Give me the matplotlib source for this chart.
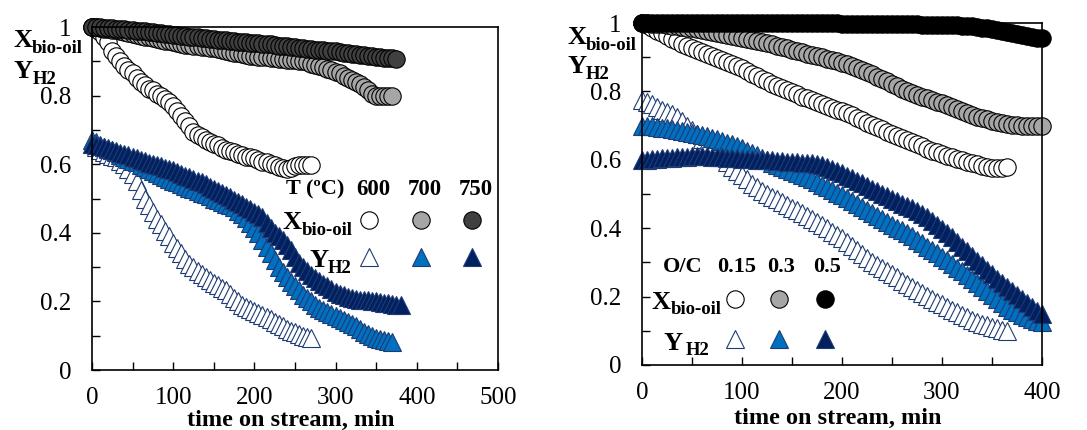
import numpy as np
import matplotlib
matplotlib.use("Agg")
import matplotlib.pyplot as plt

plt.rcParams["font.family"] = "Liberation Serif"

# sampling interval of the measurements, min
DT = 5

# ---- left panel: temperature series ----
temps = ["600", "700", "750"]
x_600 = [1.0, 0.995, 0.985, 0.97, 0.955, 0.93, 0.915, 0.9, 0.885, 0.875, 0.865, 0.85, 0.84, 0.83,
         0.82, 0.815, 0.805, 0.8, 0.79, 0.78, 0.77, 0.755, 0.74, 0.725, 0.71, 0.695, 0.685, 0.68,
         0.67, 0.665, 0.66, 0.655, 0.648, 0.642, 0.638, 0.635, 0.63, 0.627, 0.622, 0.62, 0.617,
         0.612, 0.607, 0.605, 0.6, 0.598, 0.592, 0.588, 0.585, 0.59, 0.595, 0.597, 0.598, 0.597, 0.597]
x_700 = [1.0, 1.0, 0.998, 0.995, 0.993, 0.99, 0.99, 0.988, 0.985, 0.983, 0.98, 0.978, 0.975, 0.972,
         0.97, 0.968, 0.965, 0.962, 0.96, 0.958, 0.955, 0.953, 0.95, 0.948, 0.947, 0.946, 0.945,
         0.943, 0.942, 0.94, 0.938, 0.935, 0.933, 0.93, 0.928, 0.925, 0.923, 0.92, 0.918, 0.916,
         0.915, 0.914, 0.913, 0.912, 0.91, 0.909, 0.908, 0.906, 0.905, 0.904, 0.903, 0.902, 0.9,
         0.897, 0.893, 0.89, 0.886, 0.882, 0.878, 0.874, 0.87, 0.865, 0.858, 0.852, 0.846, 0.84,
         0.835, 0.825, 0.815, 0.805, 0.8, 0.8, 0.8, 0.8, 0.8]
x_750 = [1.0, 1.0, 0.999, 0.998, 0.997, 0.996, 0.995, 0.994, 0.993, 0.992, 0.99, 0.989, 0.988,
         0.987, 0.986, 0.985, 0.983, 0.982, 0.98, 0.979, 0.978, 0.977, 0.975, 0.974, 0.972, 0.971,
         0.97, 0.969, 0.968, 0.966, 0.965, 0.963, 0.962, 0.961, 0.96, 0.958, 0.957, 0.956, 0.955,
         0.954, 0.953, 0.952, 0.951, 0.95, 0.949, 0.948, 0.946, 0.945, 0.944, 0.942, 0.941, 0.94,
         0.938, 0.937, 0.936, 0.934, 0.933, 0.932, 0.931, 0.93, 0.929, 0.927, 0.925, 0.923, 0.921,
         0.92, 0.918, 0.917, 0.916, 0.915, 0.913, 0.912, 0.911, 0.91, 0.909, 0.908]
y_600 = [0.66, 0.65, 0.64, 0.635, 0.63, 0.625, 0.62, 0.61, 0.6, 0.585, 0.57, 0.55, 0.525, 0.5, 0.48,
         0.46, 0.44, 0.425, 0.405, 0.39, 0.37, 0.355, 0.34, 0.325, 0.31, 0.3, 0.29, 0.28, 0.27,
         0.262, 0.255, 0.248, 0.24, 0.233, 0.222, 0.21, 0.2, 0.19, 0.185, 0.178, 0.172, 0.165, 0.16,
         0.155, 0.148, 0.14, 0.133, 0.127, 0.12, 0.115, 0.11, 0.105, 0.1, 0.095, 0.092]
y_700 = [0.67, 0.665, 0.655, 0.65, 0.645, 0.64, 0.635, 0.628, 0.62, 0.615, 0.61, 0.605, 0.598,
         0.592, 0.585, 0.58, 0.574, 0.568, 0.562, 0.557, 0.552, 0.547, 0.542, 0.537, 0.532, 0.527,
         0.522, 0.517, 0.512, 0.506, 0.5, 0.495, 0.49, 0.485, 0.48, 0.474, 0.465, 0.455, 0.443, 0.43,
         0.415, 0.4, 0.38, 0.36, 0.34, 0.32, 0.3, 0.285, 0.27, 0.256, 0.245, 0.232, 0.22, 0.21, 0.2,
         0.19, 0.182, 0.176, 0.17, 0.164, 0.158, 0.152, 0.146, 0.14, 0.134, 0.127, 0.12, 0.112,
         0.105, 0.098, 0.094, 0.09, 0.087, 0.085, 0.083]
y_750 = [0.66, 0.657, 0.653, 0.65, 0.646, 0.642, 0.638, 0.634, 0.63, 0.626, 0.621, 0.617, 0.613,
         0.608, 0.604, 0.6, 0.597, 0.594, 0.59, 0.586, 0.582, 0.577, 0.572, 0.567, 0.562, 0.557,
         0.552, 0.547, 0.541, 0.535, 0.529, 0.523, 0.516, 0.509, 0.503, 0.497, 0.49, 0.483, 0.476,
         0.469, 0.462, 0.456, 0.445, 0.43, 0.415, 0.4, 0.39, 0.38, 0.365, 0.35, 0.33, 0.312, 0.3,
         0.288, 0.277, 0.268, 0.26, 0.252, 0.244, 0.236, 0.228, 0.223, 0.218, 0.214, 0.21, 0.207,
         0.205, 0.204, 0.203, 0.202, 0.2, 0.198, 0.196, 0.194, 0.192, 0.19, 0.19]

# ---- right panel: O/C series ----
ocs = ["0.15", "0.3", "0.5"]
x_015 = [1.0, 0.993, 0.985, 0.978, 0.97, 0.962, 0.954, 0.947, 0.94, 0.934, 0.928, 0.922, 0.916,
         0.91, 0.904, 0.898, 0.892, 0.886, 0.88, 0.874, 0.867, 0.86, 0.852, 0.845, 0.837, 0.83,
         0.823, 0.815, 0.809, 0.803, 0.797, 0.791, 0.785, 0.78, 0.775, 0.77, 0.764, 0.758, 0.752,
         0.747, 0.742, 0.736, 0.73, 0.723, 0.716, 0.709, 0.702, 0.695, 0.689, 0.682, 0.676, 0.67,
         0.663, 0.657, 0.651, 0.645, 0.639, 0.633, 0.627, 0.622, 0.617, 0.612, 0.607, 0.603, 0.599,
         0.595, 0.591, 0.587, 0.583, 0.579, 0.576, 0.575, 0.577, 0.58]
x_03 = [1.0, 0.999, 0.998, 0.997, 0.996, 0.994, 0.992, 0.99, 0.988, 0.986, 0.984, 0.982, 0.98,
        0.978, 0.975, 0.972, 0.969, 0.966, 0.963, 0.96, 0.957, 0.954, 0.951, 0.948, 0.945, 0.942,
        0.938, 0.934, 0.93, 0.926, 0.922, 0.918, 0.914, 0.91, 0.907, 0.904, 0.9, 0.896, 0.892,
        0.888, 0.884, 0.879, 0.874, 0.868, 0.862, 0.856, 0.85, 0.843, 0.836, 0.829, 0.822, 0.815,
        0.808, 0.8, 0.795, 0.79, 0.785, 0.78, 0.775, 0.77, 0.765, 0.76, 0.754, 0.748, 0.742, 0.736,
        0.73, 0.726, 0.722, 0.718, 0.714, 0.711, 0.708, 0.705, 0.703, 0.701, 0.7, 0.699, 0.698,
        0.699, 0.7]
x_05 = [1.0, 1.0, 1.0, 1.0, 1.0, 1.0, 1.0, 1.0, 1.0, 1.0, 1.0, 1.0, 1.0, 1.0, 1.0, 1.0, 1.0, 1.0,
        1.0, 1.0, 1.0, 1.0, 1.0, 1.0, 1.0, 1.0, 1.0, 1.0, 1.0, 1.0, 0.999, 0.999, 0.999, 0.999,
        0.999, 0.999, 0.999, 0.999, 0.999, 0.999, 0.998, 0.998, 0.998, 0.998, 0.998, 0.998, 0.998,
        0.997, 0.997, 0.997, 0.997, 0.997, 0.996, 0.996, 0.996, 0.996, 0.995, 0.995, 0.995, 0.995,
        0.995, 0.994, 0.994, 0.993, 0.992, 0.991, 0.99, 0.988, 0.986, 0.984, 0.982, 0.98, 0.978,
        0.975, 0.972, 0.969, 0.966, 0.963, 0.96, 0.957, 0.955]
y_015 = [0.775, 0.77, 0.762, 0.755, 0.747, 0.74, 0.733, 0.724, 0.713, 0.7, 0.688, 0.675, 0.662,
         0.65, 0.636, 0.622, 0.608, 0.594, 0.58, 0.568, 0.556, 0.543, 0.53, 0.52, 0.51, 0.5, 0.492,
         0.484, 0.476, 0.468, 0.46, 0.452, 0.445, 0.437, 0.428, 0.419, 0.41, 0.4, 0.39, 0.38, 0.37,
         0.359, 0.348, 0.337, 0.325, 0.313, 0.302, 0.292, 0.283, 0.274, 0.265, 0.256, 0.247, 0.238,
         0.229, 0.22, 0.211, 0.202, 0.193, 0.185, 0.177, 0.169, 0.161, 0.154, 0.147, 0.14, 0.133,
         0.127, 0.121, 0.116, 0.111, 0.107, 0.103, 0.1]
y_03 = [0.7, 0.7, 0.698, 0.696, 0.694, 0.692, 0.69, 0.688, 0.685, 0.682, 0.679, 0.676, 0.673,
        0.67, 0.665, 0.66, 0.655, 0.65, 0.645, 0.64, 0.634, 0.627, 0.62, 0.613, 0.606, 0.599, 0.592,
        0.586, 0.58, 0.574, 0.568, 0.562, 0.556, 0.55, 0.543, 0.535, 0.527, 0.519, 0.511, 0.504,
        0.497, 0.488, 0.479, 0.47, 0.461, 0.452, 0.443, 0.435, 0.427, 0.419, 0.41, 0.402, 0.394,
        0.385, 0.376, 0.366, 0.356, 0.346, 0.336, 0.326, 0.316, 0.306, 0.295, 0.285, 0.274, 0.263,
        0.252, 0.24, 0.228, 0.216, 0.204, 0.192, 0.18, 0.17, 0.162, 0.154, 0.147, 0.14, 0.134,
        0.13, 0.127]
y_05 = [0.6, 0.6, 0.602, 0.603, 0.604, 0.605, 0.606, 0.607, 0.608, 0.609, 0.61, 0.61, 0.61, 0.61,
        0.609, 0.608, 0.607, 0.606, 0.605, 0.604, 0.603, 0.602, 0.601, 0.6, 0.6, 0.599, 0.598,
        0.597, 0.596, 0.595, 0.594, 0.593, 0.592, 0.591, 0.59, 0.588, 0.585, 0.58, 0.574, 0.567,
        0.56, 0.553, 0.546, 0.539, 0.532, 0.524, 0.516, 0.508, 0.5, 0.493, 0.486, 0.479, 0.472,
        0.465, 0.458, 0.45, 0.442, 0.432, 0.421, 0.41, 0.398, 0.386, 0.373, 0.36, 0.346, 0.332,
        0.318, 0.304, 0.291, 0.278, 0.265, 0.252, 0.24, 0.228, 0.216, 0.204, 0.192, 0.18, 0.169,
        0.159, 0.15]

NAVY = "#002060"
BLUE = "#0070C0"
EDGE = "#1F3B73"

circle_left = [("white", x_600), ("#A6A6A6", x_700), ("#404040", x_750)]
tri_left = [("white", y_600), (BLUE, y_700), (NAVY, y_750)]
circle_right = [("white", x_015), ("#A6A6A6", x_03), ("black", x_05)]
tri_right = [("white", y_015), (BLUE, y_03), (NAVY, y_05)]

MS_C = 12.5
MS_T = 13.5


def circ(ax, x, y, fc, **kw):
    ax.plot(x, y, ls="none", marker="o", ms=MS_C, mfc=fc, mec="black", mew=0.8,
            clip_on=False, **kw)


def tri(ax, x, y, fc, **kw):
    ax.plot(x, y, ls="none", marker="^", ms=MS_T, mfc=fc, mec=EDGE, mew=0.8,
            clip_on=False, **kw)


def sublabel(ax, x, y, main, sub, dx, transform, size=19, subsize=13.5, dy=-4):
    ax.text(x, y, main, fontsize=size, fontweight="bold", transform=transform,
            ha="left", va="baseline")
    ax.annotate(sub, xy=(x, y), xycoords=transform, xytext=(dx, dy),
                textcoords="offset points", fontsize=subsize, fontweight="bold",
                ha="left", va="baseline", annotation_clip=False)


fig = plt.figure(figsize=(10.87, 4.30), dpi=100)
axL = fig.add_axes([0.0846, 0.1395, 0.3735, 0.7977])
axR = fig.add_axes([0.5906, 0.1512, 0.368, 0.7953])

for ax, circles, tris in [(axL, circle_left, tri_left), (axR, circle_right, tri_right)]:
    for fc, vals in circles:
        circ(ax, DT * np.arange(len(vals)), vals, fc)
    for fc, vals in tris:
        tri(ax, DT * np.arange(len(vals)), vals, fc)

axL.set_xlim(0, 500)
axR.set_xlim(0, 400)
for ax, xmax, label_y in [(axL, 500, -0.115), (axR, 400, -0.125)]:
    ax.set_ylim(0, 1)
    ax.set_xticks(np.arange(0, xmax + 1, 100))
    ax.set_xticks(np.arange(50, xmax, 100), minor=True)
    ax.set_yticks([0, 0.2, 0.4, 0.6, 0.8, 1.0])
    ax.set_yticklabels(["0", "0.2", "0.4", "0.6", "0.8", "1"])
    ax.set_yticks(np.arange(0.1, 1.0, 0.2), minor=True)
    ax.tick_params(which="both", direction="in", length=6, width=1, top=False, right=False)
    ax.tick_params(axis="x", which="major", pad=12, labelsize=18)
    ax.tick_params(axis="y", which="major", pad=15, labelsize=18)
    for s in ax.spines.values():
        s.set_linewidth(1.2)
    ax.set_xlabel("time on stream, min", fontsize=17.5, fontweight="bold")
    ax.xaxis.set_label_coords(0.49, label_y)

# y-axis labels (X bio-oil / Y H2)
ft = fig.transFigure
sublabel(axL, 13 / 1087, 1 - 47 / 430, "X", "bio-oil", 13.5, ft)
sublabel(axL, 14 / 1087, 1 - 78 / 430, "Y", "H2", 13.5, ft)
sublabel(axR, 567 / 1087, 1 - 44 / 430, "X", "bio-oil", 13.5, ft)
sublabel(axR, 567 / 1087, 1 - 73 / 430, "Y", "H2", 13.5, ft)

# left legend table
ta = axL.transAxes
axL.text(0.549, 0.525, "T (ºC)", transform=ta, fontsize=16, fontweight="bold",
         ha="center", va="center")
col_x = [0.682, 0.81, 0.936]
for cx, lab in zip(col_x, temps):
    axL.text(cx + 0.01, 0.525, lab, transform=ta, fontsize=16.5, fontweight="bold",
             ha="center", va="center")
for cx, (fc, _) in zip(col_x, circle_left):
    axL.plot([cx], [0.437], transform=ta, ls="none", marker="o", ms=MS_C, mfc=fc,
             mec="black", mew=0.8, clip_on=False)
for cx, (fc, _) in zip(col_x, tri_left):
    axL.plot([cx], [0.33], transform=ta, ls="none", marker="^", ms=MS_T, mfc=fc,
             mec=EDGE, mew=0.8, clip_on=False)
sublabel(axL, 0.47, 0.41, "X", "bio-oil", 13.5, ta)
sublabel(axL, 0.535, 0.30, "Y", "H2", 13.5, ta)

# right legend table
tr = axR.transAxes
axR.text(0.1025, 0.287, "O/C", transform=tr, fontsize=16, fontweight="bold",
         ha="center", va="center")
col_xr = [0.2325, 0.3425, 0.4575]
for cx, lab in zip(col_xr, ocs):
    axR.text(cx + 0.005, 0.287, lab, transform=tr, fontsize=16, fontweight="bold",
             ha="center", va="center")
for cx, (fc, _) in zip(col_xr, circle_right):
    axR.plot([cx], [0.193], transform=tr, ls="none", marker="o", ms=MS_C, mfc=fc,
             mec="black", mew=0.8, clip_on=False)
for cx, (fc, _) in zip(col_xr, tri_right):
    axR.plot([cx], [0.076], transform=tr, ls="none", marker="^", ms=MS_T, mfc=fc,
             mec=EDGE, mew=0.8, clip_on=False)
sublabel(axR, 0.025, 0.165, "X", "bio-oil", 13.5, tr)
sublabel(axR, 0.053, 0.045, "Y", "H2", 16.5, tr)

fig.savefig("out.png", dpi=100)
